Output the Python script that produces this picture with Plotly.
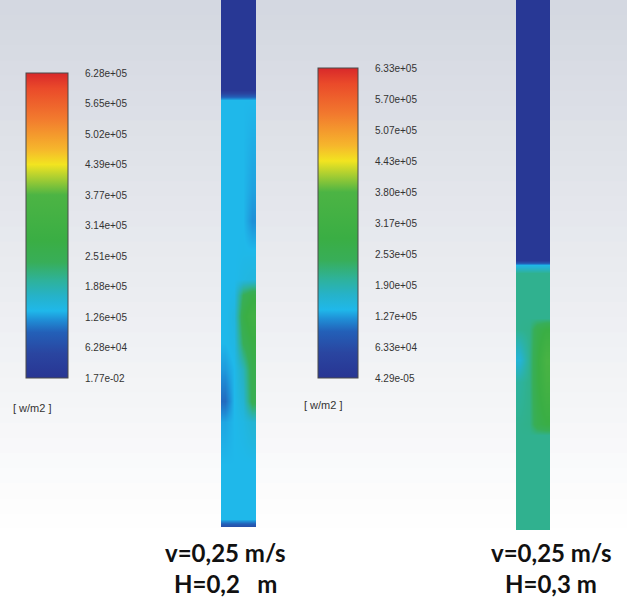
import plotly.graph_objects as go

W, H = 627, 604

# ---------------- data ----------------
# colour-bar tick labels
left_ticks = ["1.77e-02", "6.28e+04", "1.26e+05", "1.88e+05", "2.51e+05", "3.14e+05",
              "3.77e+05", "4.39e+05", "5.02e+05", "5.65e+05", "6.28e+05"]
right_ticks = ["4.29e-05", "6.33e+04", "1.27e+05", "1.90e+05", "2.53e+05", "3.17e+05",
               "3.80e+05", "4.43e+05", "5.07e+05", "5.70e+05", "6.33e+05"]
left_min, left_max = 1.77e-02, 6.28e+05
right_min, right_max = 4.29e-05, 6.33e+05
unit_label = "[ w/m2 ]"

# position along tube (0 = top, 1 = bottom), columns across tube width
cols = [0, 1, 2, 3]
left_pos = [0.00, 0.17, 0.19, 0.36, 0.42, 0.48, 0.53, 0.56, 0.60, 0.65, 0.70, 0.76, 0.80, 0.88, 0.985, 1.00]
left_flux = [  # w/m2
    [8e3, 8e3, 8e3, 8e3],
    [8e3, 8e3, 8e3, 1.0e4],
    [1.38e5, 1.38e5, 1.38e5, 1.38e5],
    [1.38e5, 1.38e5, 1.38e5, 1.28e5],
    [1.38e5, 1.38e5, 1.38e5, 1.20e5],
    [1.38e5, 1.38e5, 1.40e5, 1.40e5],
    [1.38e5, 1.38e5, 1.45e5, 1.50e5],
    [1.38e5, 1.42e5, 2.40e5, 2.70e5],
    [1.38e5, 1.50e5, 2.70e5, 3.20e5],
    [1.38e5, 1.45e5, 2.40e5, 2.80e5],
    [1.25e5, 1.38e5, 1.80e5, 2.60e5],
    [1.00e5, 1.38e5, 1.60e5, 2.50e5],
    [1.30e5, 1.38e5, 1.45e5, 1.60e5],
    [1.38e5, 1.38e5, 1.38e5, 1.38e5],
    [1.38e5, 1.38e5, 1.38e5, 1.38e5],
    [6.0e4, 6.0e4, 6.0e4, 6.0e4],
]
right_pos = [0.00, 0.49, 0.50, 0.515, 0.60, 0.62, 0.68, 0.72, 0.80, 0.82, 1.00]
right_flux = [
    [8e3, 8e3, 8e3, 8e3],
    [8e3, 8e3, 8e3, 8e3],
    [1.45e5, 1.45e5, 1.45e5, 1.45e5],
    [2.09e5, 2.09e5, 2.09e5, 2.09e5],
    [2.09e5, 2.09e5, 2.09e5, 2.09e5],
    [2.09e5, 2.12e5, 2.60e5, 2.85e5],
    [1.60e5, 2.09e5, 2.75e5, 3.60e5],
    [2.00e5, 2.12e5, 2.75e5, 3.40e5],
    [2.09e5, 2.12e5, 2.60e5, 2.80e5],
    [2.09e5, 2.09e5, 2.09e5, 2.09e5],
    [2.09e5, 2.09e5, 2.09e5, 2.09e5],
]
captions = [("v=0,25 m/s", "H=0,2\u00a0\u00a0\u00a0m"), ("v=0,25 m/s", "H=0,3 m")]

# ---------------- style ----------------
fluent = [
    [0.00, "#283593"], [0.08, "#2a45a0"], [0.15, "#2360b8"], [0.19, "#1f8ed6"],
    [0.22, "#1fb8ea"], [0.27, "#26b2c8"], [0.32, "#2eb29a"], [0.38, "#38ae58"],
    [0.45, "#3aae44"], [0.60, "#4cb444"], [0.66, "#b0d030"], [0.70, "#f2e420"],
    [0.75, "#f6b62c"], [0.85, "#f27a2e"], [0.95, "#ea4a2a"], [1.00, "#d8282a"],
]

def px(x):
    return x / W

def py(y):
    return 1 - y / H

def tickvals(lo, hi, n):
    return [lo + (hi - lo) * i / (n - 1) for i in range(n)]

def cbar(x0, ytop, length, thick, lo, hi, labels):
    return dict(
        x=px(x0), xanchor="left", y=py(ytop), yanchor="top",
        len=length, lenmode="pixels", thickness=thick, thicknessmode="pixels",
        xpad=0, ypad=0, outlinewidth=1, outlinecolor="#4a4a4a",
        tickvals=tickvals(lo, hi, len(labels)), ticktext=labels,
        ticks="outside", ticklen=15, tickcolor="rgba(0,0,0,0)",
        tickfont=dict(family="Liberation Sans, Arial", size=10, color="#333"),
    )

fig = go.Figure()
fig.add_trace(go.Heatmap(
    x=cols, y=left_pos, z=left_flux, zmin=left_min, zmax=left_max,
    colorscale=fluent, zsmooth="best", xaxis="x", yaxis="y",
    colorbar=cbar(26, 73, 305, 42, left_min, left_max, left_ticks), hoverinfo="skip"))
fig.add_trace(go.Heatmap(
    x=cols, y=right_pos, z=right_flux, zmin=right_min, zmax=right_max,
    colorscale=fluent, zsmooth="best", xaxis="x2", yaxis="y2",
    colorbar=cbar(318, 68, 310, 40, right_min, right_max, right_ticks), hoverinfo="skip"))

# background gradient (grey at top fading to white); stacked rects avoid seams
shapes = []
nb = 40
for i in range(nb):
    t = i / (nb - 1)
    f = min(1.0, t / 0.88)
    r = int(212 + (255 - 212) * f)
    g = int(216 + (255 - 216) * f)
    b = int(225 + (255 - 225) * f)
    shapes.append(dict(type="rect", xref="paper", yref="paper", layer="below",
                       x0=0, x1=1, y0=0, y1=1 - i / nb,
                       line=dict(width=0), fillcolor=f"rgb({r},{g},{b})"))

ax_hidden = dict(visible=False, showgrid=False, zeroline=False, fixedrange=True)
annotations = [
    dict(text=unit_label, x=px(32), y=py(408), xref="paper", yref="paper", showarrow=False,
         xanchor="center", yanchor="middle",
         font=dict(family="Liberation Sans, Arial", size=11, color="#333")),
    dict(text=unit_label, x=px(323), y=py(405), xref="paper", yref="paper", showarrow=False,
         xanchor="center", yanchor="middle",
         font=dict(family="Liberation Sans, Arial", size=11, color="#333")),
]
for cx, (l1, l2) in zip([226, 551], captions):
    annotations.append(dict(text=f"<b>{l1}</b>", x=px(cx), y=py(552), xref="paper", yref="paper",
                            xanchor="center", yanchor="middle",
                            showarrow=False, font=dict(family="Lato", size=24, color="#111")))
    annotations.append(dict(text=f"<b>{l2}</b>", x=px(cx), y=py(583), xref="paper", yref="paper",
                            xanchor="center", yanchor="middle",
                            showarrow=False, font=dict(family="Lato", size=24, color="#111")))

fig.update_layout(
    width=W, height=H, margin=dict(l=0, r=0, t=0, b=0),
    paper_bgcolor="white", plot_bgcolor="rgba(0,0,0,0)",
    xaxis=dict(domain=[px(221), px(256)], range=[-0.5, 3.5], **ax_hidden),
    yaxis=dict(domain=[py(527), 1], range=[1, 0], **ax_hidden),
    xaxis2=dict(domain=[px(516), px(550)], range=[-0.5, 3.5], anchor="y2", **ax_hidden),
    yaxis2=dict(domain=[py(530), 1], range=[1, 0], anchor="x2", **ax_hidden),
    shapes=shapes, annotations=annotations, showlegend=False,
)

fig.write_html("out.html", config={"displayModeBar": False},
               post_script="document.body.style.margin='0';")
